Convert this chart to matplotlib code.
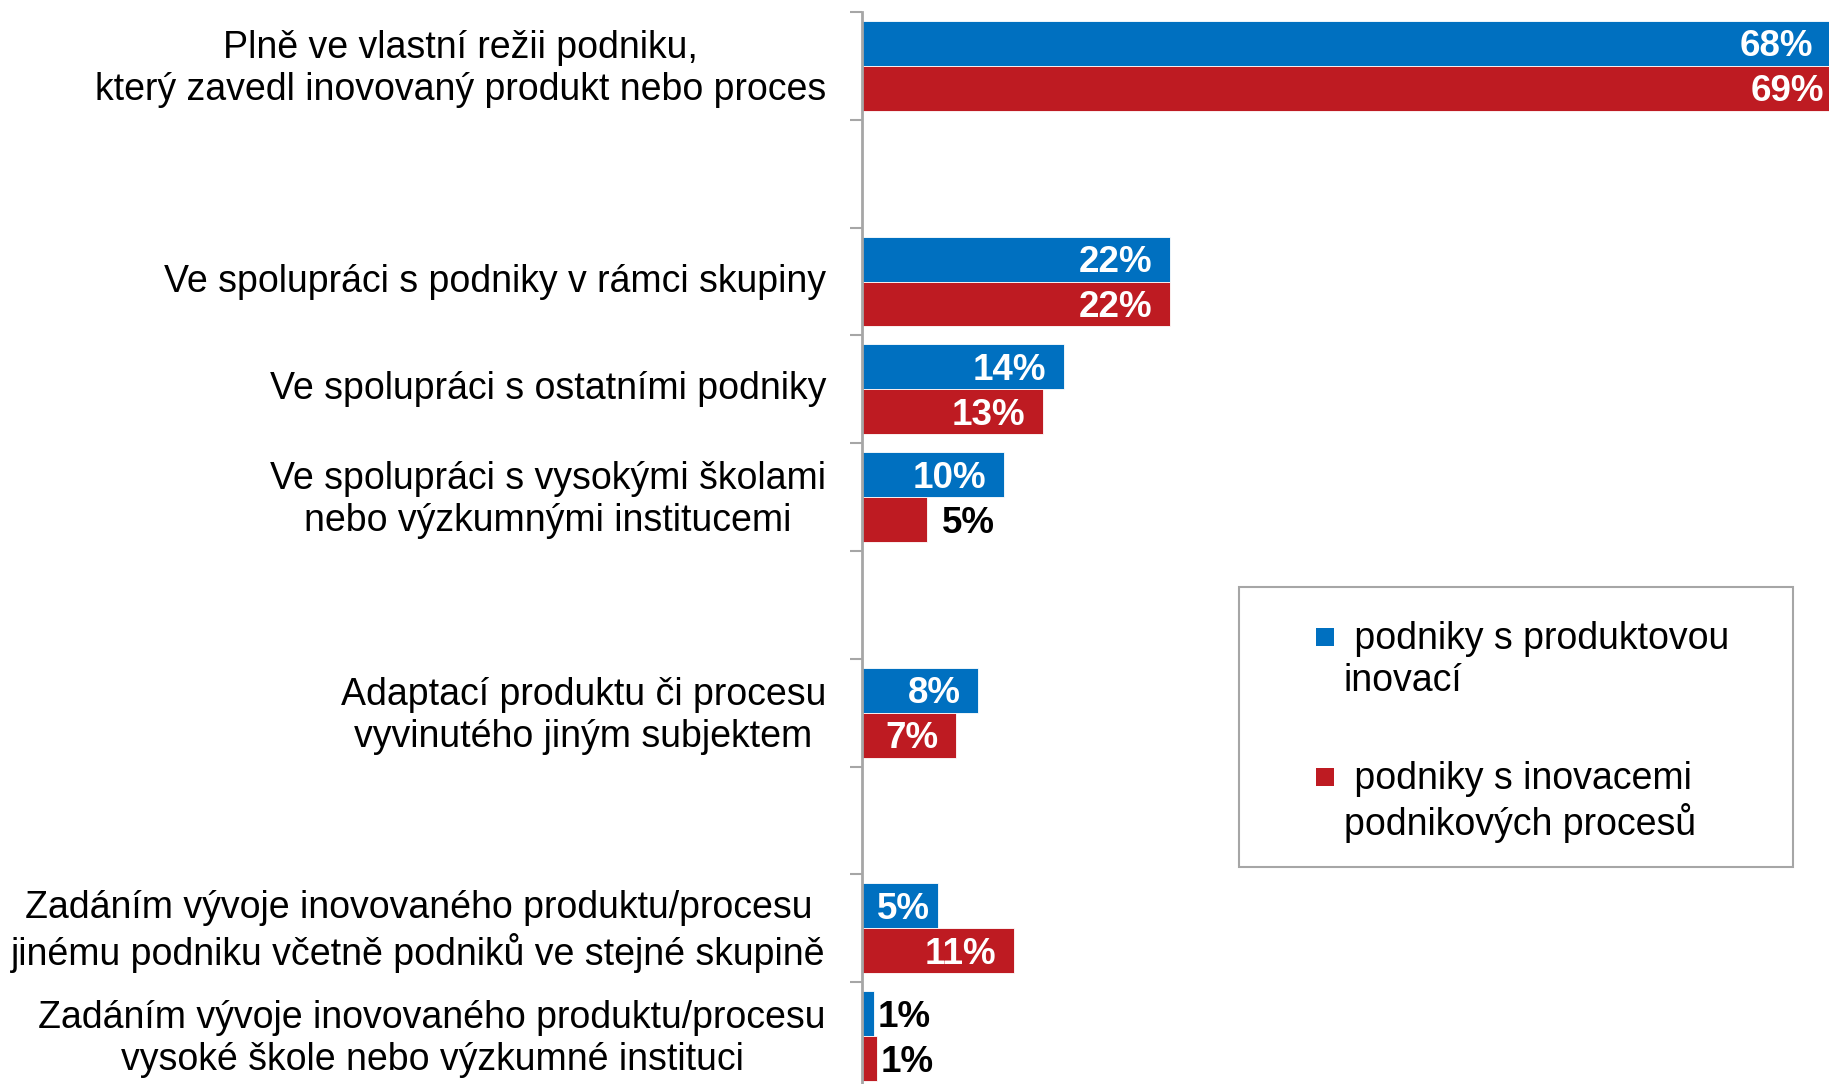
import matplotlib

matplotlib.use("Agg")
import matplotlib.pyplot as plt
import matplotlib.transforms as mtransforms
from matplotlib.patches import Rectangle
import numpy as np

plt.rcParams["font.family"] = ["Liberation Sans", "DejaVu Sans"]

# rows of the chart, top to bottom ("" = empty spacer row)
categories = [
    "Plně ve vlastní režii podniku,\nkterý zavedl inovovaný produkt nebo proces",
    "",
    "Ve spolupráci s podniky v rámci skupiny",
    "Ve spolupráci s ostatními podniky",
    "Ve spolupráci s vysokými školami\nnebo výzkumnými institucemi",
    "",
    "Adaptací produktu či procesu\nvyvinutého jiným subjektem",
    "",
    "Zadáním vývoje inovovaného produktu/procesu\njinému podniku včetně podniků ve stejné skupině",
    "Zadáním vývoje inovovaného produktu/procesu\nvysoké škole nebo výzkumné instituci",
]
product = [68.2, None, 21.7, 14.2, 10.0, None, 8.2, None, 5.35, 0.85]
process = [69.0, None, 21.7, 12.75, 4.6, None, 6.6, None, 10.7, 1.06]
series_names = [" podniky s produktovou\ninovací", " podniky s inovacemi\npodnikových procesů"]
colors = ["#0070C0", "#BE1B22"]

W, H = 1829, 1084
fig = plt.figure(figsize=(W / 100, H / 100), dpi=100, facecolor="white")
ax = fig.add_axes([862 / W, 1 - 1090 / H, 994 / W, 1078 / H])

n = len(categories)
y = np.arange(n) + 0.5
bh = 0.4167

for k, (vals, c) in enumerate(zip([product, process], colors)):
    off = -bh / 2 if k == 0 else bh / 2
    for yi, v in zip(y, vals):
        if v is None:
            continue
        ax.barh(yi + off, v, height=bh, color=c, edgecolor="white", linewidth=0.6)
        lab = f"{v:.0f}%"
        if v >= 5:
            # narrow bars get less right padding
            dx = -12.5 if v > 6 else -6
            ax.annotate(lab, (v, yi + off), xytext=(dx, -2.5), textcoords="offset points",
                        ha="right", va="center", color="white", fontsize=26.5, fontweight="bold",
                        annotation_clip=False)
        else:
            dx = 10.8 if v > 2 else 2.8
            ax.annotate(lab, (v, yi + off), xytext=(dx, -2.5), textcoords="offset points",
                        ha="left", va="center", color="black", fontsize=26.5, fontweight="bold",
                        annotation_clip=False)

ax.set_xlim(0, 70)
ax.set_ylim(n, 0)
ax.set_yticks(y)
ax.set_yticklabels(categories, fontsize=27, linespacing=1.22)
ax.set_yticks(np.arange(n + 1), minor=True)
ax.tick_params(axis="y", which="major", length=0, pad=26)
ax.tick_params(axis="y", which="minor", length=9, width=1.5, color="#A6A6A6")
ax.set_xticks([])
# nudge labels up a little (after tick_params, which resets transforms)
shift = mtransforms.ScaledTranslation(0, 4 / 100, fig.dpi_scale_trans)
for t in ax.get_yticklabels():
    t.set_multialignment("center")
    t.set_transform(t.get_transform() + shift)
for spn in ("top", "right", "bottom"):
    ax.spines[spn].set_visible(False)
ax.spines["left"].set_color("#A6A6A6")
ax.spines["left"].set_linewidth(2)

# legend box drawn by hand (marker sits on first text line)
fig.add_artist(Rectangle((1239 / W, 1 - 867 / H), 554 / W, 280 / H, transform=fig.transFigure,
                         facecolor="white", edgecolor="#A6A6A6", linewidth=1.5))
for i, (name, c) in enumerate(zip(series_names, colors)):
    ly = 637 + i * 140
    fig.add_artist(Rectangle(((1325 - 9) / W, 1 - (ly + 9) / H), 18 / W, 18 / H,
                             transform=fig.transFigure, facecolor=c, edgecolor="none"))
    fig.text(1344 / W, 1 - (ly - 16) / H, name, fontsize=27, ha="left", va="top", linespacing=1.2)

fig.savefig("out.png", dpi=100, facecolor="white")
